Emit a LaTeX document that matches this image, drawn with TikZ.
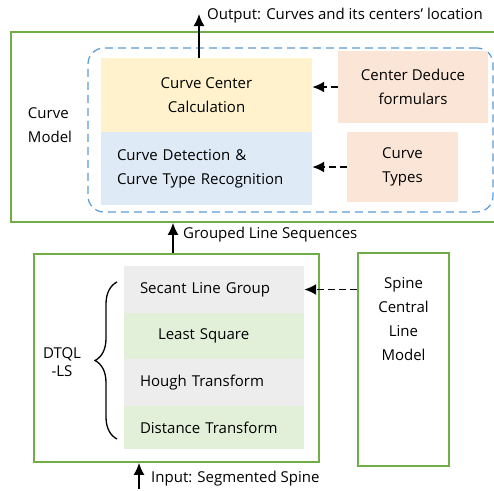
\documentclass[tikz,border=0pt]{standalone}
\usepackage{fontspec}
\setmainfont{Open Sans}
\usetikzlibrary{arrows.meta}
\usetikzlibrary{decorations.pathreplacing}
\definecolor{framegreen}{HTML}{70AD47}
\definecolor{groupblue}{HTML}{5B9BD5}
\definecolor{calcyellow}{HTML}{FFF2CC}
\definecolor{detectblue}{HTML}{DEEBF7}
\definecolor{inputpeach}{HTML}{FBE5D6}
\definecolor{rowgray}{HTML}{EDEDED}
\definecolor{rowgreen}{HTML}{E2F0D9}

\begin{document}
\begin{tikzpicture}[x=1pt, y=-1pt, font=\fontsize{15}{24}\selectfont]
   \useasboundingbox (0,0) rectangle (494,490);
   \tikzset{FrameStyle/.style={draw=framegreen, line width=1.8pt, inner sep=0pt}}
   \tikzset{CellStyle/.style={inner sep=0pt, align=center}}
   \tikzset{ArrowStyle/.style={line width=1.5pt, -{Latex[length=12pt,width=11pt]}}}
   \tikzset{FeedStyle/.style={ArrowStyle, line width=1.8pt, dash pattern=on 7pt off 4pt}}
   % curve model
   \node[FrameStyle, minimum width=484, minimum height=190] (model) at (253,127) {};
   \node[draw=groupblue, line width=1.2pt, dash pattern=on 8pt off 5pt, rounded corners=16pt,
         minimum width=405, minimum height=164] (group) at (290.5,130) {};
   \node[CellStyle, fill=calcyellow, minimum width=211, minimum height=74] (calc) at (206.5,95)
      {Curve Center\\Calculation};
   \node[CellStyle, fill=detectblue, minimum width=211, minimum height=73, text width=179, align=left]
      (detect) at (206.5,168.5) {Curve Detection \&\\Curve Type Recognition};
   \node[CellStyle, fill=inputpeach, minimum width=150, minimum height=72] (deduce) at (413,87)
      {Center Deduce\\formulars};
   \node[CellStyle, fill=inputpeach, minimum width=111, minimum height=70] (types) at (402.5,167)
      {Curve\\Types};
   \node[CellStyle, align=left] (cmlabel) at (50,125) {Curve\\Model};
   \draw[FeedStyle] (deduce.west) -- (deduce.west -| calc.east);
   \draw[FeedStyle] (types.west) -- (types.west -| detect.east);
   \coordinate (out) at (199,14);
   \draw[ArrowStyle] (calc.north -| out) -- (out);
   \node[anchor=base west, inner sep=0pt] (outtext) at (207,19) {Output: Curves and its centers’ location};
   % DTQL-LS
   \node[FrameStyle, minimum width=285, minimum height=208] (dtql) at (176.5,358) {};
   \node[FrameStyle, minimum width=91, minimum height=213] (spine) at (403.5,359.5) {};
   \node[CellStyle] (spinetext) at (403.5,319) {Spine\\Central\\Line\\Model};
   \tikzset{RowStyle/.style={CellStyle, minimum width=180, text width=148, align=left}}
   \node[RowStyle, fill=rowgray, minimum height=47] (secant) at (214,289.5) {Secant Line Group};
   \node[RowStyle, fill=rowgreen, minimum height=46] (least) at (214,336) {\hspace*{18pt}Least Square};
   \node[RowStyle, fill=rowgray, minimum height=47] (hough) at (214,382.5) {Hough Transform};
   \node[RowStyle, fill=rowgreen, minimum height=43] (distance) at (214,427.5) {Distance Transform};
   \coordinate (bt) at (117,282);
   \coordinate (bb) at (117,439);
   \draw[decorate, decoration={brace, amplitude=22pt}, line width=1.3pt] (bb) -- (bt);
   \node[CellStyle, font=\fontsize{15}{18}\selectfont] (dtqltext) at (62,362) {DTQL\\-LS};
   \draw[FeedStyle] (spine.west |- secant.east) -- (secant.east);
   % links between the parts
   \coordinate (gx) at (173,0);
   \draw[ArrowStyle] (dtql.north -| gx) -- (model.south -| gx);
   \node[anchor=base west, inner sep=0pt] (groupedtext) at (183,238) {Grouped Line Sequences};
   \coordinate (in) at (139,489);
   \draw[ArrowStyle] (in) -- (in |- dtql.south);
   \node[anchor=base west, inner sep=0pt] (intext) at (151,482) {Input: Segmented Spine};
\end{tikzpicture}
\end{document}
